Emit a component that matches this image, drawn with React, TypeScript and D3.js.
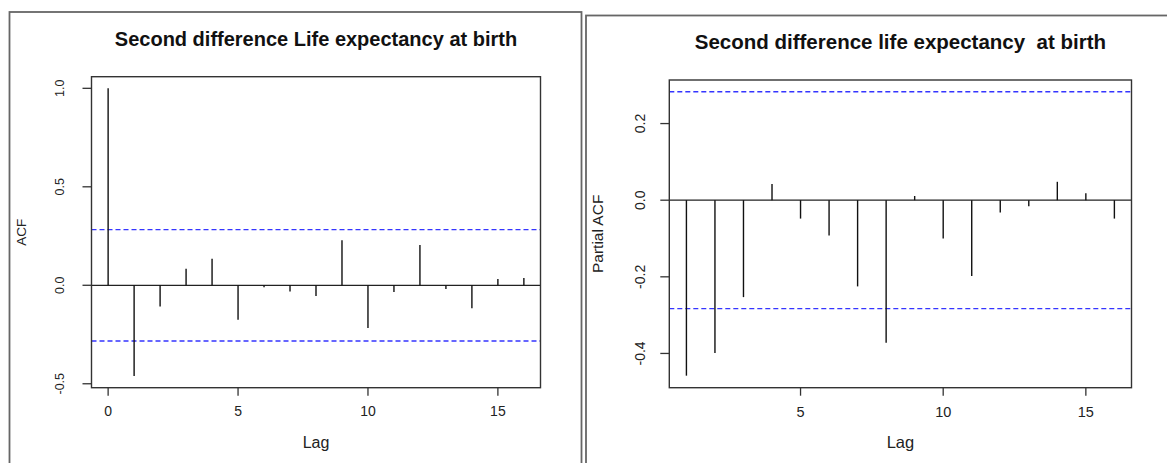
import React from "react";
import { scaleLinear } from "d3";

// ACF of the second difference (lags 0..16)
const acfLags = [0, 1, 2, 3, 4, 5, 6, 7, 8, 9, 10, 11, 12, 13, 14, 15, 16];
const acfValues = [
  1.0, -0.461, -0.108, 0.084, 0.135, -0.175, -0.01, -0.032, -0.054, 0.229,
  -0.217, -0.034, 0.204, -0.019, -0.116, 0.032, 0.037,
];
const acfYTicks = [-0.5, 0.0, 0.5, 1.0];
const acfXTicks = [0, 5, 10, 15];

// PACF (lags 1..16)
const pacfLags = [1, 2, 3, 4, 5, 6, 7, 8, 9, 10, 11, 12, 13, 14, 15, 16];
const pacfValues = [
  -0.458, -0.399, -0.253, 0.042, -0.048, -0.092, -0.225, -0.372, 0.011,
  -0.1, -0.198, -0.032, -0.016, 0.048, 0.018, -0.048,
];
const pacfYTicks = [-0.4, -0.2, 0.0, 0.2];
const pacfXTicks = [5, 10, 15];

const ciBound = 0.283;

const FONT = "'Liberation Sans', Arial, sans-serif";

type PanelProps = {
  title: string;
  yLabel: string;
  lags: number[];
  values: number[];
  xTicks: number[];
  yTicks: number[];
  xDomain: [number, number];
  yDomain: [number, number];
  box: { left: number; right: number; top: number; bottom: number };
  yTickX: number;
  yLabelX: number;
  fs: { title: number; tick: number; ytick: number; lab: number; ylab: number };
};

const Panel = (p: PanelProps) => {
  const { box } = p;
  const x = scaleLinear().domain(p.xDomain).range([box.left, box.right]);
  const y = scaleLinear().domain(p.yDomain).range([box.bottom, box.top]);
  const midX = (box.left + box.right) / 2;
  const midY = (box.top + box.bottom) / 2;

  return (
    <g fontFamily={FONT}>
      <text x={midX} y={box.top - 36} textAnchor="middle" fontWeight="bold"
        fontSize={p.fs.title} fill="#111" style={{ whiteSpace: "pre" }} dominantBaseline="middle">
        {p.title}
      </text>

      {/* confidence bounds */}
      {[ciBound, -ciBound].map((c, i) => (
        <line key={i} x1={box.left} x2={box.right} y1={y(c)} y2={y(c)}
          stroke="#3535ff" strokeWidth={1.3} strokeDasharray="5,3" />
      ))}

      {/* zero line */}
      <line x1={box.left} x2={box.right} y1={y(0)} y2={y(0)} stroke="#222" strokeWidth={1.3} />

      {/* spikes */}
      {p.lags.map((lag, i) => (
        <line key={lag} x1={x(lag)} x2={x(lag)} y1={y(0)} y2={y(p.values[i])}
          stroke="#111" strokeWidth={1.4} />
      ))}

      <rect x={box.left} y={box.top} width={box.right - box.left} height={box.bottom - box.top}
        fill="none" stroke="#333" strokeWidth={1.4} />

      {/* x axis */}
      {p.xTicks.map(t => (
        <g key={t} transform={`translate(${x(t)},0)`}>
          <line y1={box.bottom} y2={box.bottom + 8} stroke="#333" strokeWidth={1.3} />
          <text y={box.bottom + 25} textAnchor="middle" dominantBaseline="middle"
            fontSize={p.fs.tick} fill="#222">{t}</text>
        </g>
      ))}
      <text x={midX} y={box.bottom + 56} textAnchor="middle" dominantBaseline="middle"
        fontSize={p.fs.lab} fill="#222">Lag</text>

      {/* y axis */}
      {p.yTicks.map(t => (
        <g key={t} transform={`translate(0,${y(t)})`}>
          <line x1={box.left - 9} x2={box.left} stroke="#333" strokeWidth={1.3} />
          <text transform={`translate(${p.yTickX},0) rotate(-90)`} textAnchor="middle"
            dominantBaseline="middle" fontSize={p.fs.ytick} fill="#222">{t.toFixed(1)}</text>
        </g>
      ))}
      <text transform={`translate(${p.yLabelX},${midY}) rotate(-90)`} textAnchor="middle"
        dominantBaseline="middle" fontSize={p.fs.ylab} fill="#222">{p.yLabel}</text>
    </g>
  );
};

const App = () => {
  return (
    <svg width={1167} height={463} style={{ position: "fixed", left: 0, top: 0, background: "#fff" }}>
      <rect x={0} y={0} width={1167} height={463} fill="#fff" />
      {/* outer frames */}
      <rect x={9.5} y={12} width={572} height={470} fill="none" stroke="#666" strokeWidth={1.8} />
      <rect x={586} y={15.5} width={620} height={470} fill="none" stroke="#666" strokeWidth={1.8} />

      <Panel
        title="Second difference Life expectancy at birth"
        yLabel="ACF"
        lags={acfLags}
        values={acfValues}
        xTicks={acfXTicks}
        yTicks={acfYTicks}
        xDomain={[-0.64, 16.64]}
        yDomain={[-0.52, 1.059]}
        box={{ left: 91.5, right: 540.5, top: 76.7, bottom: 387.7 }}
        yTickX={61}
        yLabelX={22}
        fs={{ title: 20, tick: 14, ytick: 12.5, lab: 16, ylab: 13.5 }}
      />
      <Panel
        title="Second difference life expectancy  at birth"
        yLabel="Partial ACF"
        lags={pacfLags}
        values={pacfValues}
        xTicks={pacfXTicks}
        yTicks={pacfYTicks}
        xDomain={[0.4, 16.6]}
        yDomain={[-0.4894, 0.3137]}
        box={{ left: 669.3, right: 1131.5, top: 80, bottom: 387.7 }}
        yTickX={641}
        yLabelX={599}
        fs={{ title: 20.5, tick: 14.5, ytick: 14, lab: 16.5, ylab: 15.5 }}
      />
    </svg>
  );
};

export default App;
